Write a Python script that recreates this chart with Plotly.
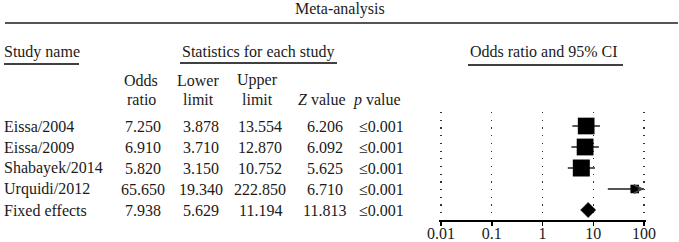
import math
import plotly.graph_objects as go

# ---------------- data ----------------
studies = ["Eissa/2004", "Eissa/2009", "Shabayek/2014", "Urquidi/2012", "Fixed effects"]
odds_ratio = [7.250, 6.910, 5.820, 65.650, 7.938]
lower_limit = [3.878, 3.710, 3.150, 19.340, 5.629]
upper_limit = [13.554, 12.870, 10.752, 222.850, 11.194]
z_value = [6.206, 6.092, 5.625, 6.710, 11.813]
p_value = ["≤0.001", "≤0.001", "≤0.001", "≤0.001", "≤0.001"]
tick_values = [0.01, 0.1, 1, 10, 100]
tick_labels = ["0.01", "0.1", "1", "10", "100"]

# ---------------- layout helpers ----------------
W, H = 679, 242
FONT = "Liberation Serif"
TXT = "#1a1a1a"
FS = 16


def px(x):
    return x / W


def py(y):
    return 1 - y / H


row_y = list(range(len(studies)))
n_study = len(studies) - 1  # last row is pooled estimate

fig = go.Figure()

# study weights -> square size
se = [(math.log(u) - math.log(l)) / (2 * 1.96) for l, u in zip(lower_limit, upper_limit)]
w = [1 / s ** 2 for s in se[:n_study]]
wmax = max(w)
sizes = [17 * math.sqrt(v / wmax) for v in w]

# CI lines
for i in range(n_study):
    is_arrow = upper_limit[i] > tick_values[-1]
    fig.add_trace(go.Scatter(
        x=[lower_limit[i], min(upper_limit[i], tick_values[-1])], y=[row_y[i], row_y[i]],
        mode="lines", line=dict(color="#555" if is_arrow else "#222", width=2 if is_arrow else 1.5),
        hoverinfo="skip", showlegend=False))
    if is_arrow:
        fig.add_annotation(x=math.log10(tick_values[-1]), y=row_y[i],
                           ax=math.log10(tick_values[-1]) - 0.15, ay=row_y[i],
                           xref="x", yref="y", axref="x", ayref="y", text="",
                           showarrow=True, arrowhead=5, arrowsize=1.1, arrowwidth=1.5,
                           arrowcolor="#444")

# squares
fig.add_trace(go.Scatter(
    x=odds_ratio[:n_study], y=row_y[:n_study], mode="markers",
    marker=dict(symbol="square", size=sizes, color="#000000", opacity=1, line=dict(width=0)),
    opacity=1, hoverinfo="skip", showlegend=False))

# diamond for pooled estimate
k = n_study
hh = 0.36
fig.add_trace(go.Scatter(
    x=[lower_limit[k], odds_ratio[k], upper_limit[k], odds_ratio[k], lower_limit[k]],
    y=[row_y[k], row_y[k] - hh, row_y[k], row_y[k] + hh, row_y[k]],
    mode="lines", fill="toself", fillcolor="black", line=dict(color="black", width=0.5),
    hoverinfo="skip", showlegend=False))

# axes (range padded slightly so the end gridlines are drawn)
pad = 0.04
dec_px = (644 - 441) / 4.0
row0_px, row_step = 126, 21
top_px, bot_px = 112, 220
fig.update_xaxes(type="log", range=[-2 - pad, 2 + pad],
                 domain=[px(441 - pad * dec_px), px(644 + pad * dec_px)],
                 tickvals=tick_values, ticktext=tick_labels,
                 showline=True, linecolor="black", linewidth=2,
                 ticks="outside", ticklen=4, tickwidth=1.5, tickcolor="black",
                 ticklabelstandoff=-6,
                 showgrid=True, gridcolor="#333", gridwidth=1.2, griddash="1.2px,6.5px",
                 tickfont=dict(family=FONT, size=FS, color=TXT), zeroline=False,
                 automargin=False, fixedrange=True)
fig.update_yaxes(range=[(bot_px - row0_px) / row_step, (top_px - row0_px) / row_step],
                 domain=[py(bot_px), py(top_px)], visible=False, showgrid=False,
                 zeroline=False, automargin=False, fixedrange=True)

# ---------------- text ----------------
def txt(x, y, s, anchor="center", yref="paper"):
    fig.add_annotation(x=px(x), y=(py(y) if yref == "paper" else y), xref="paper", yref=yref,
                       text=s, showarrow=False, xanchor=anchor, yanchor="middle",
                       font=dict(family=FONT, size=FS, color=TXT))


txt(340, 9, "Meta-analysis")
txt(2, 52, "Study name", anchor="left")
txt(257.5, 52, "Statistics for each study")
txt(543.5, 52, "Odds ratio and 95% CI")

hdr_x = [141, 198, 257, 322, 377]
txt(hdr_x[0], 80, "Odds")
txt(hdr_x[0], 100, "ratio")
txt(hdr_x[1], 80, "Lower")
txt(hdr_x[1], 100, "limit")
txt(hdr_x[2], 80, "Upper")
txt(hdr_x[2], 100, "limit")
txt(hdr_x[3], 100, "<i>Z</i> value")
txt(hdr_x[4], 100, "<i>p</i> value")

col_x = [142.5, 200.5, 260, 324.5, 381.5]
for i in range(len(studies)):
    txt(2, row_y[i], studies[i], anchor="left", yref="y")
    txt(col_x[0], row_y[i], f"{odds_ratio[i]:.3f}", yref="y")
    txt(col_x[1], row_y[i], f"{lower_limit[i]:.3f}", yref="y")
    txt(col_x[2], row_y[i], f"{upper_limit[i]:.3f}", yref="y")
    txt(col_x[3], row_y[i], f"{z_value[i]:.3f}", yref="y")
    txt(col_x[4], row_y[i], p_value[i], yref="y")

# ---------------- rules ----------------
def hline(x0, x1, y, color="black", width=1.5):
    fig.add_shape(type="line", xref="paper", yref="paper",
                  x0=px(x0), x1=px(x1), y0=py(y), y1=py(y),
                  line=dict(color=color, width=width))


hline(5, 678, 23, color="#555", width=2)
hline(4, 79, 64)
hline(180, 337, 63)
hline(468, 623, 65)

fig.update_layout(width=W, height=H,
                  margin=dict(l=0, r=0, t=0, b=0, pad=0, autoexpand=False),
                  paper_bgcolor="white", plot_bgcolor="white", showlegend=False)

# remove the browser's default 8px body margin so the figure fills the window
fig.write_html("out.html",
               config={"displayModeBar": False, "staticPlot": True},
               post_script="document.body.style.margin='0';document.body.style.overflow='hidden';")
